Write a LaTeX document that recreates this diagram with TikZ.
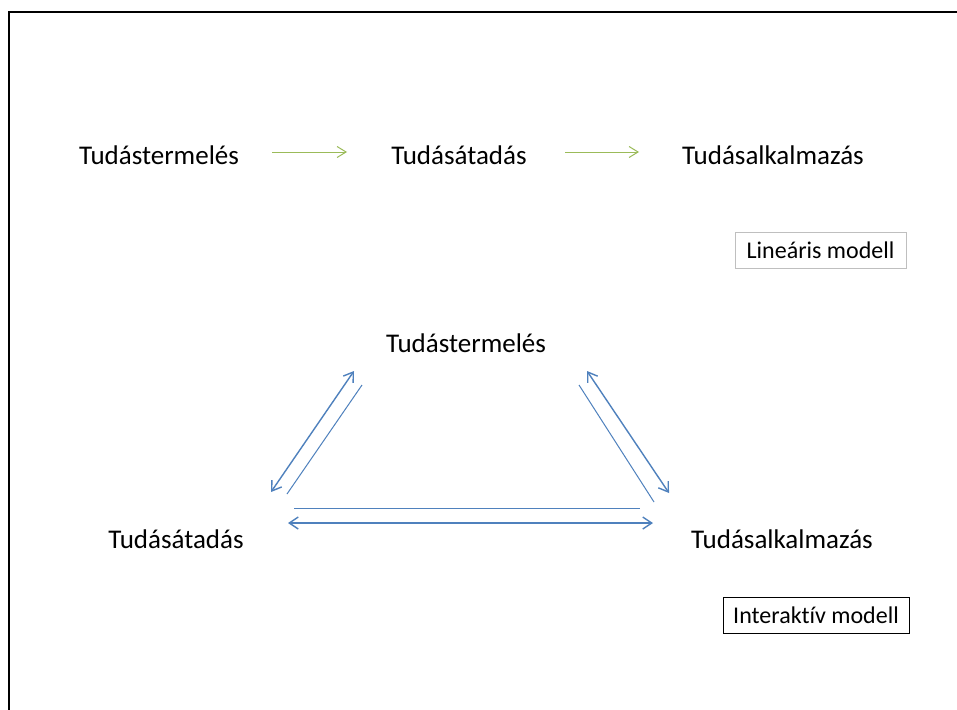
\documentclass[tikz,border=0pt]{standalone}
\usepackage{fontspec}
\setmainfont[Ligatures=NoCommon]{Carlito}
\usetikzlibrary{arrows.meta}
\definecolor{offgreen}{HTML}{9BBB59}
\definecolor{offblue}{HTML}{4F81BD}
\definecolor{boxgray}{HTML}{BFBFBF}
\begin{document}
\begin{tikzpicture}[x=1pt,y=-1pt,
  lbl/.style={font=\fontsize{27}{32}\selectfont, inner sep=0pt, anchor=center},
  tag/.style={font=\fontsize{24}{29}\selectfont, draw, line width=0.8pt, minimum height=36pt, inner xsep=8pt},
  garrow/.style={draw=offgreen, line width=1pt, -{Straight Barb[length=9pt,width=11pt]}},
  barrow/.style={draw=offblue, line width=1.4pt, {Straight Barb[length=9pt,width=12pt]}-{Straight Barb[length=9pt,width=12pt]}},
  bline/.style={draw=offblue, line width=1pt}]
\useasboundingbox (0,0) rectangle (957,709);
\fill[white] (0,0) rectangle (957,709);
% frame
\coordinate (fa) at (9,709);
\coordinate (fb) at (9,12);
\coordinate (fc) at (957,12);
\draw[line width=2pt, line cap=rect] (fa) -- (fb) -- (fc);
% linear model
\node[lbl] (p1) at (159,155) {Tudástermelés};
\node[lbl] (t1) at (459,155) {Tudásátadás};
\node[lbl] (a1) at (773,155) {Tudásalkalmazás};
\coordinate (g1s) at (272,152); \coordinate (g1e) at (347,152);
\coordinate (g2s) at (565,152); \coordinate (g2e) at (639,152);
\draw[garrow] (g1s) -- (g1e);
\draw[garrow] (g2s) -- (g2e);
\node[tag, draw=boxgray, minimum width=171pt] (lin) at (820.5,250) {Lineáris modell};
% interactive model
\node[lbl] (p2) at (466,343) {Tudástermelés};
\node[lbl] (t2) at (176,539) {Tudásátadás};
\node[lbl] (a2) at (782,539) {Tudásalkalmazás};
\coordinate (l1s) at (271,492); \coordinate (l1e) at (354,371);
\coordinate (l2s) at (287,494); \coordinate (l2e) at (362,385);
\coordinate (r1s) at (587,371); \coordinate (r1e) at (669,493);
\coordinate (r2s) at (579,385); \coordinate (r2e) at (654,502);
\coordinate (b2s) at (294,508); \coordinate (b2e) at (640,508);
\coordinate (b1s) at (288,523); \coordinate (b1e) at (653,523);
\draw[barrow] (l1s) -- (l1e);
\draw[bline] (l2s) -- (l2e);
\draw[barrow] (r1s) -- (r1e);
\draw[bline] (r2s) -- (r2e);
\draw[bline] (b2s) -- (b2e);
\draw[barrow] (b1s) -- (b1e);
\node[tag, draw=black, minimum width=186pt] (int) at (816,615.5) {Interaktív modell};
\end{tikzpicture}
\end{document}
